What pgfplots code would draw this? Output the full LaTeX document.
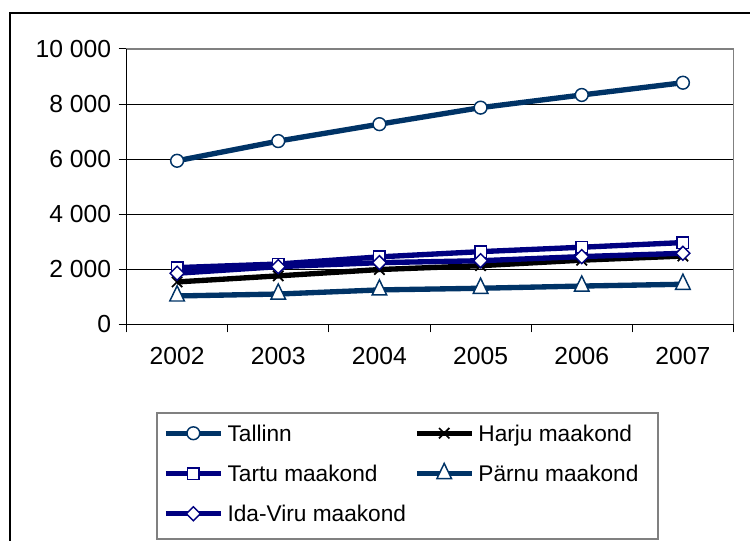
\documentclass[border=0pt]{standalone}
\usepackage{fontspec}
\setmainfont{Liberation Sans}
\usepackage{pgfplots}
\pgfplotsset{compat=1.18}
\definecolor{tealnavy}{HTML}{003366}
\definecolor{navy}{HTML}{000080}

\begin{document}
\begin{tikzpicture}
\clip (0,0) rectangle (562.5pt,405.75pt);
% outer chart frame (right and bottom edges fall outside the picture)
\draw[line width=1.5pt] (7.5pt,-20pt) rectangle (600pt,396pt);
\begin{axis}[
  at={(94.875pt,162.5pt)}, anchor=south west,
  scale only axis, width=455.25pt, height=206.5pt,
  xmin=-0.5, xmax=5.5, ymin=0, ymax=10000,
  clip=false,
  xtick={-0.5,0.5,...,5.5}, xticklabels={},
  extra x ticks={0,1,2,3,4,5},
  extra x tick labels={2002,2003,2004,2005,2006,2007},
  extra x tick style={major tick length=0pt, xticklabel style={yshift=-14pt}},
  ytick={0,2000,...,10000},
  yticklabels={0,2 000,4 000,6 000,8 000,10 000},
  scaled y ticks=false,
  xtick pos=bottom, ytick pos=left,
  ymajorgrids, grid style={black, line width=0.75pt},
  tick align=outside, major tick length=6pt,
  tick style={black, line width=0.75pt},
  axis line style={gray, line width=1.2pt},
  ticklabel style={font=\fontsize{18.5}{20}\selectfont},
  yticklabel style={xshift=-2pt},
  every axis plot/.append style={line width=4pt},
  legend columns=2,
  legend cell align=left,
  legend style={draw=none, fill=none, inner sep=0pt, at={(0.0601,-0.351)}, anchor=north west,
    font=\fontsize{17}{19}\selectfont,
    nodes={inner sep=3pt, text height=12pt, text depth=0pt},
    /tikz/row sep=12.2pt,
    /tikz/every even column/.append style={column sep=3pt}},
  legend image code/.code={\draw[mark repeat=2, mark phase=2] plot coordinates {(0pt,0pt) (20.6pt,0pt) (41.25pt,0pt)};},
]
\addplot[color=tealnavy, mark=*, mark size=4.8pt,
  mark options={solid, draw=tealnavy, fill=white, line width=1.1pt}] coordinates
  {(0,5940) (1,6655) (2,7270) (3,7870) (4,8330) (5,8775)};
\addlegendentry{Tallinn}
\addplot[color=black, mark=x, mark size=5.5pt,
  mark options={solid, line width=1.3pt}] coordinates
  {(0,1540) (1,1760) (2,1990) (3,2130) (4,2330) (5,2480)};
\addlegendentry{Harju maakond}
\addplot[color=navy, mark=square*, mark size=4.3pt,
  mark options={solid, draw=navy, fill=white, line width=1.1pt}] coordinates
  {(0,2060) (1,2190) (2,2450) (3,2640) (4,2800) (5,2970)};
\addlegendentry{Tartu maakond}
\addplot[color=tealnavy, mark=triangle*, mark size=6.3pt,
  mark options={solid, draw=tealnavy, fill=white, line width=1.1pt, yscale=1.2}] coordinates
  {(0,1030) (1,1100) (2,1250) (3,1310) (4,1390) (5,1455)};
\addlegendentry{Pärnu maakond}
\addplot[color=navy, mark=square*, mark size=3.7pt,
  mark options={solid, draw=navy, fill=white, line width=1.1pt, rotate=45}] coordinates
  {(0,1855) (1,2095) (2,2240) (3,2310) (4,2460) (5,2580)};
\addlegendentry{Ida-Viru maakond}
% left and bottom axis lines are black
\draw[black, line width=1pt] (rel axis cs:0,1) -- (rel axis cs:0,0) -- (rel axis cs:1,0);
\end{axis}
% legend frame
\draw[gray, line width=1pt] (117.75pt,1.5pt) rectangle (493.5pt,96pt);
\end{tikzpicture}
\end{document}
